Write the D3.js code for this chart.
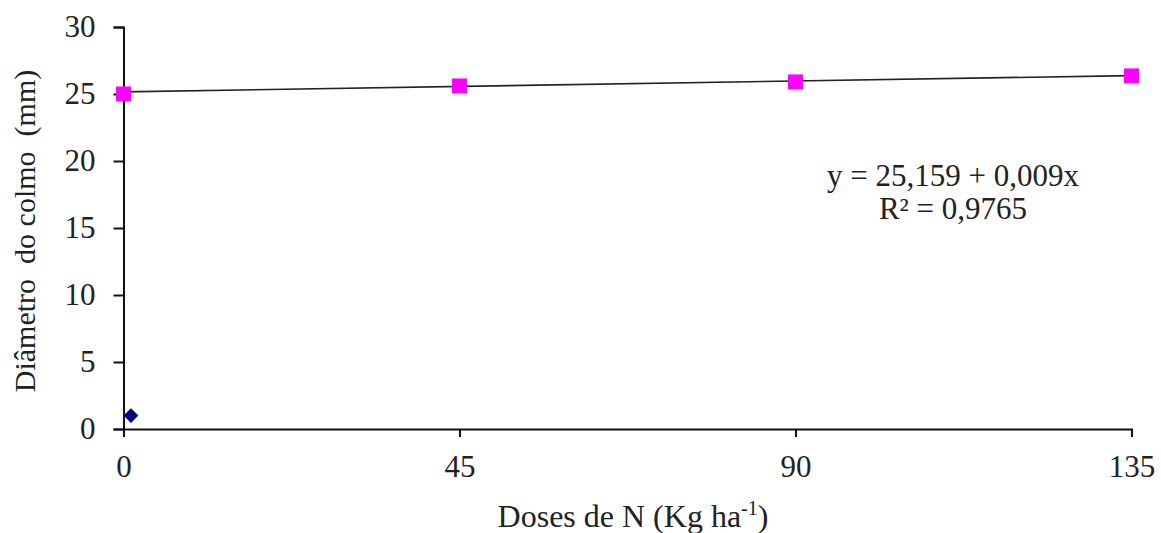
<!DOCTYPE html>
<html>
<head>
<meta charset="utf-8">
<script src="https://cdn.jsdelivr.net/npm/d3@7"></script>
<style>
  body { margin: 0; background: #fff; }
  text { font-family: "Liberation Serif", "Times New Roman", serif; fill: #222; }
</style>
</head>
<body>
<svg id="chart" width="1161" height="533"></svg>
<script>
// data
var doses = [0, 45, 90, 135];
var diametro = [25.0, 25.6, 25.9, 26.35];
var extraPoint = [[1, 1]];
var xTicks = [0, 45, 90, 135];
var yTicks = [0, 5, 10, 15, 20, 25, 30];
var coef = [25.159, 0.009];
var eqLines = ["y = 25,159 + 0,009x", "R² = 0,9765"];

var svg = d3.select("#chart");

var x = d3.scaleLinear().domain([0, 135]).range([123.5, 1131.5]);
var y = d3.scaleLinear().domain([0, 30]).range([429, 27]);

// axes
var yAxis = svg.append("g")
    .attr("transform", "translate(123.5,0)")
    .call(d3.axisLeft(y).tickValues(yTicks).tickSize(10).tickSizeOuter(10).tickPadding(18));
var xAxis = svg.append("g")
    .attr("transform", "translate(0,429)")
    .call(d3.axisBottom(x).tickValues(xTicks).tickSize(8).tickSizeOuter(8).tickPadding(18));

[yAxis, xAxis].forEach(function(a){
  a.select(".domain").attr("stroke", "#111").attr("stroke-width", 2);
  a.selectAll(".tick line").attr("stroke", "#111").attr("stroke-width", 2);
  a.selectAll(".tick text")
    .style("font-family", "'Liberation Serif', 'Times New Roman', serif")
    .style("font-size", "31px")
    .attr("fill", "#333");
});

// trend line
var line = d3.line()
    .x(function(d){ return x(d); })
    .y(function(d){ return y(coef[0] + coef[1] * d); });
svg.append("path")
    .datum([0, 135])
    .attr("d", line)
    .attr("fill", "none")
    .attr("stroke", "#222")
    .attr("stroke-width", 1.6);

// points
svg.selectAll(".sq")
    .data(doses)
    .enter().append("rect")
    .attr("class", "sq")
    .attr("x", function(d){ return x(d) - 7.5; })
    .attr("y", function(d, i){ return y(diametro[i]) - 7.5; })
    .attr("width", 15)
    .attr("height", 15)
    .attr("fill", "#ff00ff");

svg.selectAll(".dm")
    .data(extraPoint)
    .enter().append("path")
    .attr("class", "dm")
    .attr("transform", function(d){ return "translate(" + x(d[0]) + "," + y(d[1]) + ") rotate(45)"; })
    .attr("d", d3.symbol().type(d3.symbolSquare).size(110))
    .attr("fill", "#000080");

// labels
svg.append("text")
    .attr("transform", "translate(35,231) rotate(-90)")
    .attr("text-anchor", "middle")
    .style("font-size", "30px")
    .style("white-space", "pre")
    .attr("xml:space", "preserve")
    .text("Diâmetro  do colmo  (mm)");

var xt = svg.append("text")
    .attr("x", 633)
    .attr("y", 527)
    .attr("text-anchor", "middle")
    .style("font-size", "32px");
xt.append("tspan").text("Doses de N (Kg ha");
xt.append("tspan").attr("dy", -12).style("font-size", "20px").text("-1");
xt.append("tspan").attr("dy", 12).text(")");

svg.selectAll(".eq")
    .data(eqLines)
    .enter().append("text")
    .attr("class", "eq")
    .attr("x", 953)
    .attr("y", function(d, i){ return 186 + i * 33; })
    .attr("text-anchor", "middle")
    .style("font-size", "31px")
    .text(function(d){ return d; });
</script>
</body>
</html>
